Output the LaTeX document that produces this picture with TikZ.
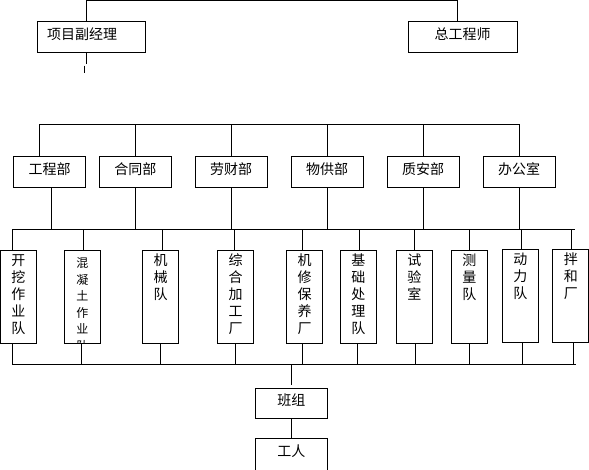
\documentclass[tikz,border=0pt]{standalone}
\usepackage{fontspec}
\setmainfont{Noto Sans CJK SC}

\tikzstyle{leader} = [rectangle, minimum height=31pt, text height=10pt, text depth=5pt, draw=black, line width=1pt]
\tikzstyle{dept} = [rectangle, minimum width=72pt, minimum height=31pt, text height=10pt, text depth=5pt, draw=black, line width=1pt]
\tikzstyle{team} = [rectangle, anchor=north, minimum width=36pt, inner xsep=0pt, inner ysep=2pt, text width=14pt, align=center, text height=13pt, text depth=76pt, draw=black, line width=1pt]
\tikzstyle{link} = [line width=1pt]

\begin{document}
\begin{tikzpicture}[x=1pt, y=-1pt, font=\fontsize{14}{17}\selectfont]
\useasboundingbox (0,0) rectangle (589,469);
\clip (0,0) rectangle (589,469);

% Nodes
\node (vice) [leader, text width=88pt, inner xsep=10pt, align=left] at (91,36.5) {项目副经理};
\node (chief) [leader, minimum width=109pt] at (462.5,36.5) {总工程师};

\node (gongcheng) [dept] at (49.7,171.5) {工程部};
\node (hetong) [dept] at (135.3,171.5) {合同部};
\node (laocai) [dept] at (231,171.5) {劳财部};
\node (wugong) [dept] at (327,171.5) {物供部};
\node (zhian) [dept] at (423,171.5) {质安部};
\node (bangong) [dept] at (519,171.5) {办公室};

\node (kaiwa) [team] at (18.5,250.3) {开\\挖\\作\\业\\队};
\begin{scope}
\clip (63.8,249.8) rectangle (100.8,343.8);
\node (hunning) [team, text height=15pt, text depth=74pt, font=\fontsize{12}{16.5}\selectfont] at (82.3,250.3) {混\\凝\\土\\作\\业\\队};
\end{scope}
\node (jixie) [team] at (160.5,250.3) {机\\械\\队};
\node (zonghe) [team] at (235.5,250.3) {综\\合\\加\\工\\厂};
\node (jixiu) [team] at (304.7,250.3) {机\\修\\保\\养\\厂};
\node (jichu) [team] at (358.3,250.3) {基\\础\\处\\理\\队};
\node (shiyan) [team] at (414.3,250.3) {试\\验\\室};
\node (celiang) [team] at (469.3,250.3) {测\\量\\队};
\node (dongli) [team] at (520.3,248.5) {动\\力\\队};
\node (banhe) [team] at (570.8,248.5) {拌\\和\\厂};

\node (banzu) [dept, minimum height=30pt] at (291.3,403.3) {班组};
\node (gongren) [dept, text depth=14pt, minimum height=40pt] at (291.3,458.3) {工人};

% Connections
\draw [link] ([xshift=-5pt]vice.north) -- ++(0,-20) -| ([xshift=-5.5pt]chief.north);
\draw [link] ([xshift=-5pt]vice.south) -- ++(0,11);
\draw [link] ([xshift=-6.7pt]vice.south) ++(0,13) -- ++(0,7);

\draw [link] ([xshift=-10.7pt]gongcheng.north) -- ++(0,-31) -| (bangong.north);
\foreach \d in {hetong,laocai,wugong,zhian}
  \draw [link] (\d.north) -- ++(0,-31);

\coordinate (upbusW) at (12.3,229);
\coordinate (upbusE) at (575,229);
\coordinate (lowbusW) at (12.3,364);
\coordinate (lowbusE) at (576,364);
\draw [link] (upbusW) -- (upbusE);
\draw [link] (lowbusW) -- (lowbusE);

\foreach \d/\s in {gongcheng/2, hetong/0, laocai/0.3, wugong/0.3, zhian/0.3, bangong/0.3}
  \draw [link] ([xshift=\s pt]\d.south) -- ([xshift=\s pt]\d.south |- upbusW);

\foreach \t/\a/\b in {kaiwa/-6.2/-6.2, hunning/1/-0.6, jixie/1.8/-0.2, zonghe/-1.2/-0.2, jixiu/-2.4/-2.4, jichu/1/-1, shiyan/0/1.4, celiang/0/0, dongli/1/1.7, banhe/0.9/2.7}
{
  \draw [link] ([xshift=\a pt]\t.north) -- ([xshift=\a pt]\t.north |- upbusW);
  \draw [link] ([xshift=\b pt]\t.south) -- ([xshift=\b pt]\t.south |- lowbusW);
}

\draw [link] (banzu.north |- lowbusW) -- ([yshift=3pt]banzu.north);
\draw [link] (banzu) -- (gongren);

\end{tikzpicture}
\end{document}
